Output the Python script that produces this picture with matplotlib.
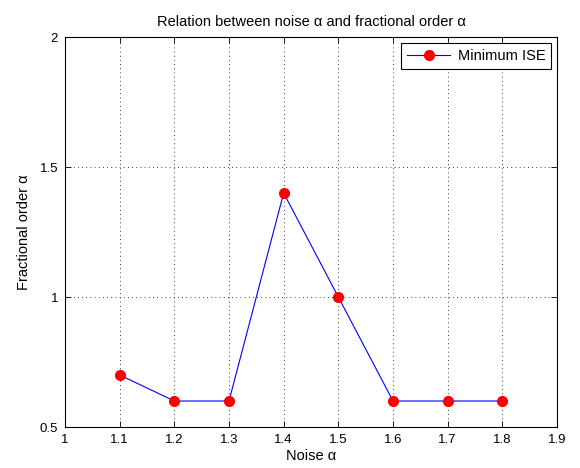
import matplotlib
matplotlib.use("Agg")
import matplotlib.pyplot as plt

plt.rcParams['font.family'] = ['Liberation Sans', 'DejaVu Sans']

noise_alpha = [1.1, 1.2, 1.3, 1.4, 1.5, 1.6, 1.7, 1.8]
frac_order = [0.7, 0.6, 0.6, 1.4, 1.0, 0.6, 0.6, 0.6]
xticks = [1, 1.1, 1.2, 1.3, 1.4, 1.5, 1.6, 1.7, 1.8, 1.9]
xticklabels = ['1', '1.1', '1.2', '1.3', '1.4', '1.5', '1.6', '1.7', '1.8', '1.9']
yticks = [0.5, 1, 1.5, 2]
yticklabels = ['0.5', '1', '1.5', '2']

fig = plt.figure(figsize=(5.8, 4.68), dpi=100)
ax = fig.add_axes([65/580, 1-427/468, (557-65)/580, (427-37)/468])
ax.plot(noise_alpha, frac_order, color='blue', lw=0.8, marker='o', ms=7,
        mfc='red', mec='red', label='Minimum ISE')
ax.set_xlim(1, 1.9)
ax.set_ylim(0.5, 2)
ax.set_xticks(xticks)
ax.set_xticklabels(xticklabels)
ax.set_yticks(yticks)
ax.set_yticklabels(yticklabels)
ax.grid(True, color='black', linestyle=(0, (1, 4)), lw=0.6)
ax.tick_params(direction='in', length=4, width=0.6, labelsize=9.5, top=True, right=True, pad=5)
for s in ax.spines.values():
    s.set_linewidth(0.8)
ax.set_xlabel('Noise α', fontsize=10.5, labelpad=2)
ax.set_ylabel('Fractional order α', fontsize=10.5, labelpad=6)
ax.set_title('Relation between noise α and fractional order α', fontsize=10.5, pad=8)
leg = ax.legend(loc='upper right', fontsize=10.5, fancybox=False, framealpha=1,
                edgecolor='black', handlelength=3, handletextpad=0.5, borderaxespad=0.4)
leg.get_frame().set_linewidth(0.8)
fig.savefig('out.png', dpi=100)
